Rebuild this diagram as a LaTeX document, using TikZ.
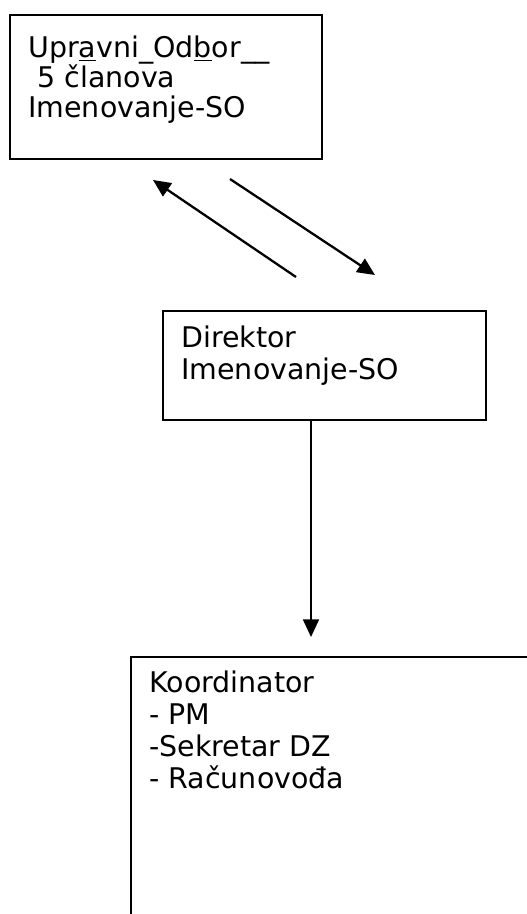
\documentclass[tikz,border=0pt]{standalone}
\usepackage{fontspec}
\setmainfont{DejaVu Sans}
\usetikzlibrary{arrows.meta, positioning}

\begin{document}
\begin{tikzpicture}[x=0.02cm, y=-0.02cm,
	okvir/.style={draw, line width=1.3pt, inner sep=0pt, anchor=north west},
	tekst/.style={anchor=base west, align=left, inner sep=0pt,
		font=\fontsize{16.2pt}{18.14pt}\selectfont},
	strelica/.style={line width=1.3pt, -{Triangle[length=10pt, width=9pt]}}]
	\useasboundingbox (0,0) rectangle (527,914);
	\clip (0,0) rectangle (527,914);

	\node[okvir, minimum width=6.24cm, minimum height=2.88cm] (odbor) at (9,14) {};
	\node[okvir, minimum width=6.46cm, minimum height=2.18cm] (direktor) at (162,310) {};
	\node[okvir, minimum width=8.4cm, minimum height=6cm] (koordinator) at (130,656) {};

	% base = baseline of the last line
	\node[tekst, font=\fontsize{16.2pt}{17pt}\selectfont] (odbortekst) at ([shift={(19,103)}]odbor.north west)
		{Upr\underline{a}vni\_Od\underline{b}or\_\_\\ \hspace*{0.32em}5 članova\\ Imenovanje-SO};
	\node[tekst] (direktortekst) at ([shift={(19,69)}]direktor.north west)
		{Direktor\\ Imenovanje-SO};
	\node[tekst] (koordinatortekst) at ([shift={(19,132)}]koordinator.north west)
		{Koordinator\\ - PM\\ -Sekretar DZ\\ - Računovođa};

	\coordinate (gore1) at (296,277);
	\coordinate (gore2) at (153,180);
	\coordinate (dolje1) at (230,179);
	\coordinate (dolje2) at (375,275);
	\coordinate (kordvrh) at (311,637);

	\draw[strelica] (gore1) -- (gore2);
	\draw[strelica] (dolje1) -- (dolje2);
	\draw[strelica] (direktor.south -| kordvrh) -- (kordvrh);
\end{tikzpicture}
\end{document}
